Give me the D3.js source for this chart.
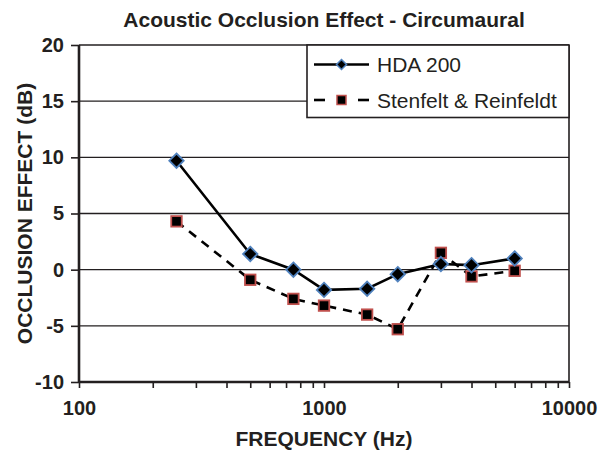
<!DOCTYPE html>
<html>
<head>
<meta charset="utf-8">
<script src="https://cdn.jsdelivr.net/npm/d3@7"></script>
<style>
  html, body { margin: 0; padding: 0; background: #fff; }
  svg { display: block; font-family: "Liberation Sans", Arial, Helvetica, sans-serif; }
</style>
</head>
<body>
<svg id="chart" width="611" height="452"></svg>
<script>
// Occlusion effect measured at audiometric frequencies (Hz)
const frequencies = [250, 500, 750, 1000, 1500, 2000, 3000, 4000, 6000];
const hda200 = [9.7, 1.4, 0.0, -1.8, -1.7, -0.4, 0.5, 0.4, 1.0];
const stenfeltReinfeldt = [4.3, -0.9, -2.6, -3.2, -4.0, -5.3, 1.5, -0.6, -0.1];

const seriesNames = ["HDA 200", "Stenfelt & Reinfeldt"];
const yTicks = [-10, -5, 0, 5, 10, 15, 20];
const xMajorTicks = [100, 1000, 10000];
const xMinorTicks = [200, 300, 400, 500, 600, 700, 800, 900,
                     2000, 3000, 4000, 5000, 6000, 7000, 8000, 9000];

const chartTitle = "Acoustic Occlusion Effect - Circumaural";
const xTitle = "FREQUENCY (Hz)";
const yTitle = "OCCLUSION EFFECT (dB)";

const ink = "#231f20";
const blue = "#4f81bd";
const red = "#c0504d";

const svg = d3.select("#chart");
const plot = { left: 79, right: 569, top: 45, bottom: 382 };

const x = d3.scaleLog().domain([100, 10000]).range([plot.left, plot.right]);
const y = d3.scaleLinear().domain([-10, 20]).range([plot.bottom, plot.top]);

// Horizontal gridlines (the top one doubles as the frame)
svg.append("g")
  .selectAll("line")
  .data(yTicks.filter(d => d > -10))
  .join("line")
  .attr("x1", plot.left).attr("x2", plot.right)
  .attr("y1", d => y(d)).attr("y2", d => y(d))
  .attr("stroke", ink).attr("stroke-width", 1.3);

// Right frame edge
svg.append("line")
  .attr("x1", plot.right).attr("x2", plot.right)
  .attr("y1", plot.top).attr("y2", plot.bottom)
  .attr("stroke", ink).attr("stroke-width", 1.6);

// Axes
const xAxis = d3.axisBottom(x)
  .tickValues(xMajorTicks.concat(xMinorTicks))
  .tickFormat(d => xMajorTicks.includes(d) ? String(d) : "")
  .tickSize(6).tickPadding(12.5);

const gx = svg.append("g")
  .attr("transform", `translate(0,${plot.bottom})`)
  .call(xAxis);

// plain hyphen for negative values
const yAxis = d3.axisLeft(y).tickValues(yTicks).tickFormat(d => String(d))
  .tickSize(8).tickPadding(7);
const gy = svg.append("g")
  .attr("transform", `translate(${plot.left},0)`)
  .call(yAxis);

[gx, gy].forEach(g => {
  g.select(".domain").attr("stroke", ink).attr("stroke-width", 2.6);
  g.selectAll(".tick line").attr("stroke", ink).attr("stroke-width", 1.6);
  g.selectAll(".tick text")
    .attr("fill", ink)
    .style("font-size", "20px")
    .style("font-weight", "bold");
});
gx.select(".domain").attr("d", `M${plot.left},0H${plot.right}`);
gy.select(".domain").attr("d", `M0,${plot.top}V${plot.bottom}`);

// Series lines
const line = d3.line()
  .x(d => x(d[0]))
  .y(d => y(d[1]));

const srPoints = frequencies.map((f, i) => [f, stenfeltReinfeldt[i]]);
const hdaPoints = frequencies.map((f, i) => [f, hda200[i]]);

svg.append("path")
  .datum(srPoints)
  .attr("d", line)
  .attr("fill", "none")
  .attr("stroke", "#000")
  .attr("stroke-width", 2.6)
  .attr("stroke-dasharray", "9,7");

svg.append("path")
  .datum(hdaPoints)
  .attr("d", line)
  .attr("fill", "none")
  .attr("stroke", "#000")
  .attr("stroke-width", 2.6);

// Markers
const squareSide = 10.5;
svg.append("g")
  .selectAll("rect")
  .data(srPoints)
  .join("rect")
  .attr("x", d => x(d[0]) - squareSide / 2)
  .attr("y", d => y(d[1]) - squareSide / 2)
  .attr("width", squareSide).attr("height", squareSide)
  .attr("fill", "#000")
  .attr("stroke", red).attr("stroke-width", 1.8);

const diamond = r => `M0,${-r}L${r},0L0,${r}L${-r},0Z`;
svg.append("g")
  .selectAll("path")
  .data(hdaPoints)
  .join("path")
  .attr("transform", d => `translate(${x(d[0])},${y(d[1])})`)
  .attr("d", diamond(7.2))
  .attr("fill", "#000")
  .attr("stroke", blue).attr("stroke-width", 1.8);

// Legend
const legend = svg.append("g");
legend.append("rect")
  .attr("x", 307).attr("y", plot.top)
  .attr("width", plot.right - 307).attr("height", 72.5)
  .attr("fill", "#fff")
  .attr("stroke", ink).attr("stroke-width", 1.6);

const rowY = [64.5, 100];
// solid sample
legend.append("line")
  .attr("x1", 314).attr("x2", 369).attr("y1", rowY[0]).attr("y2", rowY[0])
  .attr("stroke", "#000").attr("stroke-width", 2.6);
legend.append("path")
  .attr("transform", `translate(341.5,${rowY[0]})`)
  .attr("d", diamond(5))
  .attr("fill", "#000").attr("stroke", blue).attr("stroke-width", 1.5);
// dashed sample
[[314, 325], [358, 369]].forEach(([a, b]) => {
  legend.append("line")
    .attr("x1", a).attr("x2", b).attr("y1", rowY[1]).attr("y2", rowY[1])
    .attr("stroke", "#000").attr("stroke-width", 2.6);
});
legend.append("rect")
  .attr("x", 341.5 - 4.5).attr("y", rowY[1] - 4.5)
  .attr("width", 9).attr("height", 9)
  .attr("fill", "#000").attr("stroke", red).attr("stroke-width", 1.5);

legend.selectAll("text")
  .data(seriesNames)
  .join("text")
  .attr("x", 377)
  .attr("y", (d, i) => rowY[i])
  .attr("dy", "0.36em")
  .attr("fill", ink)
  .style("font-size", "21px")
  .text(d => d);

// Titles
svg.append("text")
  .attr("x", 324).attr("y", 27)
  .attr("text-anchor", "middle")
  .attr("fill", ink)
  .style("font-size", "21px").style("font-weight", "bold")
  .text(chartTitle);

svg.append("text")
  .attr("x", 324).attr("y", 446)
  .attr("text-anchor", "middle")
  .attr("fill", ink)
  .style("font-size", "21px").style("font-weight", "bold")
  .text(xTitle);

svg.append("text")
  .attr("transform", `translate(32,${(plot.top + plot.bottom) / 2}) rotate(-90)`)
  .attr("text-anchor", "middle")
  .attr("fill", ink)
  .style("font-size", "21px").style("font-weight", "bold")
  .text(yTitle);
</script>
</body>
</html>
